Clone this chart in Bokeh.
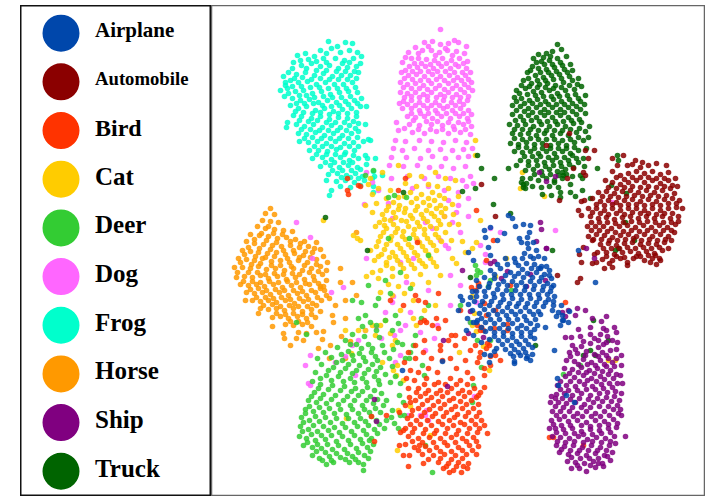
from bokeh.plotting import figure
from bokeh.layouts import row
from bokeh.models import Range1d
from bokeh.core.properties import value
from bokeh.embed import file_html
from bokeh.resources import INLINE

categories = ["Airplane", "Automobile", "Bird", "Cat", "Deer", "Dog", "Frog", "Horse", "Ship", "Truck"]
colors = ["#0047AB", "#8B0000", "#FF3300", "#FFCC00", "#33CC33", "#FF66FF", "#00FFCC", "#FF9900", "#800080", "#006400"]
label_sizes = ["21px", "18.7px", "24px", "25px", "25px", "25px", "25px", "25px", "25px", "25px"]

horse = [(270,208),(265,213),(274,214),(262,220),(270,221),(278,222),(257,226),(265,228),(274,229),(283,230),(292,231),(250,234),(259,235),(268,236),(277,238),(286,237),(295,239),(304,241),(246,241),(254,243),(263,244),(272,245),(281,246),(290,245),(299,247),(308,246),(316,242),(242,250),(250,251),(258,252),(267,253),(276,252),(285,254),(294,253),(303,255),(312,252),(320,249),(238,258),(246,259),(254,260),(262,258),(271,261),(280,260),(289,262),(298,260),(307,262),(316,259),(323,256),(234,267),(242,267),(250,268),(258,266),(266,269),(275,268),(284,270),(293,268),(302,270),(311,268),(320,266),(327,262),(236,277),(244,276),(252,277),(260,275),(268,278),(277,276),(286,279),(295,277),(304,279),(313,276),(322,274),(240,284),(248,285),(256,284),(264,286),(273,284),(282,287),(291,285),(300,287),(309,284),(318,283),(326,280),(246,292),(254,293),(262,292),(270,294),(279,292),(288,295),(297,293),(306,295),(315,292),(324,290),(252,300),(260,301),(268,300),(276,302),(285,300),(294,303),(303,301),(312,303),(321,300),(329,298),(260,308),(268,309),(276,308),(284,310),(293,308),(302,311),(311,309),(320,311),(272,317),(280,316),(288,318),(297,316),(306,318),(315,317),(285,324),(293,325),(302,324),(311,326),(298,332),(306,333),(316,332),(303,340),(322,339),(330,345),(341,336),(350,341),(333,322),(345,300),(352,282),(340,268),(356,232),(335,305),(323,331),(296,338),(318,348),(329,358),(345,358),(345,318),(356,295),(340,282),(290,345),(284,338),(272,326),(258,313),(320,286),(332,315),(245,300),(283,333)]
horse_b = [(268,226),(261,233),(273,233),(282,234),(254,239),(266,240),(276,242),(290,241),(300,243),(248,247),(259,248),(270,249),(283,250),(293,250),(305,251),(314,248),(244,254),(255,256),(265,257),(274,256),(287,258),(299,257),(310,257),(240,262),(251,264),(260,263),(271,265),(280,265),(291,266),(304,265),(316,264),(237,272),(248,272),(257,272),(265,274),(274,273),(283,274),(292,273),(299,274),(309,272),(318,271),(326,270),(243,281),(252,281),(260,282),(269,281),(278,282),(287,281),(296,282),(305,283),(314,280),(323,286),(250,289),(258,288),(266,290),(275,289),(284,290),(293,290),(302,291),(311,290),(320,288),(256,297),(265,297),(273,298),(281,297),(290,299),(299,298),(308,299),(317,297),(326,295),(263,305),(272,304),(280,306),(289,305),(298,306),(307,306),(316,305),(276,313),(285,314),(293,313),(302,314),(311,314),(290,321),(298,321),(307,322)]

frog = [(328,41),(345,42),(352,43),(320,50),(331,48),(340,52),(349,50),(357,52),(297,55),(305,53),(314,56),(323,58),(335,58),(344,60),(353,58),(361,56),(293,62),(301,65),(311,63),(320,66),(329,65),(338,68),(347,67),(356,66),(360,63),(288,72),(296,74),(305,72),(314,75),(323,73),(332,76),(341,75),(350,75),(358,72),(283,76),(290,80),(298,82),(307,81),(316,84),(325,82),(334,84),(343,84),(352,82),(280,90),(287,88),(295,91),(303,90),(312,93),(321,91),(330,94),(339,92),(348,91),(357,92),(284,96),(292,98),(300,100),(309,99),(318,102),(327,100),(336,102),(345,101),(354,100),(361,98),(290,105),(298,108),(306,106),(315,110),(324,108),(333,111),(342,109),(351,108),(360,106),(366,106),(293,115),(301,116),(311,118),(320,116),(329,119),(338,117),(347,118),(356,116),(296,124),(304,126),(313,124),(322,127),(331,125),(340,127),(349,125),(358,123),(286,127),(287,122),(298,133),(306,134),(315,132),(324,135),(333,133),(342,135),(351,133),(358,131),(365,124),(299,141),(308,142),(317,141),(326,143),(335,141),(344,143),(353,142),(309,150),(318,150),(327,151),(336,149),(345,152),(354,150),(363,141),(370,140),(312,158),(322,157),(331,159),(340,157),(349,160),(358,158),(368,139),(320,166),(330,165),(339,167),(348,165),(357,167),(365,155),(328,174),(337,173),(346,175),(355,173),(362,176),(367,158),(375,158),(336,181),(345,180),(354,182),(364,180),(372,178),(326,180),(331,190),(340,186),(350,187),(360,185),(329,195),(373,192),(373,186),(374,176),(382,175),(373,171),(366,164)]
frog_b = [(337,46),(326,53),(308,59),(300,60),(316,61),(326,62),(342,63),(349,62),(292,68),(306,68),(316,70),(326,70),(336,71),(345,71),(354,71),(285,82),(294,78),(302,77),(311,79),(320,78),(329,79),(338,79),(347,79),(356,78),(285,85),(292,86),(301,86),(310,87),(319,87),(328,88),(337,88),(346,88),(355,87),(288,93),(299,95),(306,95),(314,97),(323,96),(332,97),(341,97),(350,96),(296,103),(304,103),(313,103),(322,105),(331,106),(339,105),(348,104),(357,103),(295,111),(303,112),(312,113),(320,112),(329,114),(338,113),(347,113),(356,112),(299,120),(308,121),(317,120),(326,122),(335,122),(344,122),(353,121),(301,129),(310,129),(319,130),(328,130),(337,130),(346,130),(355,128),(304,138),(312,137),(321,138),(330,138),(339,138),(348,138),(357,137),(314,146),(322,146),(331,146),(340,147),(349,146),(358,146),(316,154),(326,154),(335,154),(344,154),(353,155),(325,162),(334,162),(343,162),(352,162),(332,170),(342,170),(351,170),(360,169),(341,177),(350,177),(358,178)]

dog = [(440,29),(454,40),(424,42),(432,41),(440,44),(448,43),(458,42),(466,46),(415,47),(422,50),(431,50),(439,52),(447,50),(456,51),(464,53),(408,52),(411,58),(418,58),(426,59),(434,60),(442,58),(451,60),(459,58),(467,61),(402,62),(409,66),(417,67),(425,66),(433,68),(441,66),(450,68),(458,66),(466,68),(470,72),(401,72),(408,75),(416,74),(424,76),(432,74),(440,76),(449,75),(457,77),(465,75),(400,82),(407,84),(415,83),(423,85),(431,83),(439,85),(448,83),(456,85),(464,84),(471,82),(400,92),(407,93),(415,92),(423,94),(431,92),(440,94),(448,92),(456,94),(464,92),(472,90),(403,101),(411,100),(419,102),(427,100),(435,102),(443,100),(451,102),(459,101),(467,100),(399,103),(402,108),(411,108),(419,110),(427,108),(435,110),(443,108),(452,110),(460,108),(468,110),(407,116),(415,117),(424,116),(432,118),(441,116),(450,118),(459,116),(467,118),(396,122),(409,124),(419,125),(431,124),(442,125),(453,126),(463,124),(471,126),(398,130),(412,132),(424,133),(436,131),(448,133),(460,132),(470,134),(395,140),(405,141),(419,140),(431,141),(443,142),(455,140),(466,142),(393,148),(402,150),(414,148),(428,150),(440,149),(452,150),(463,149),(472,148),(391,157),(406,157),(420,158),(432,156),(445,158),(458,157),(468,156),(389,165),(403,166),(417,165),(429,167),(441,166),(453,168),(465,166),(391,178),(407,176),(424,178),(438,176),(450,178),(462,180),(470,176),(412,188),(428,186),(444,190),(458,192),(466,186),(448,200),(458,205),(468,198),(473,183),(444,216),(452,222),(460,232),(440,240),(456,212),(432,228),(468,216),(445,245),(425,222),(372,182),(378,190),(366,172),(388,203),(364,204),(392,218),(448,248),(417,240),(366,258),(310,237),(343,287),(331,292),(296,222),(312,258),(400,262),(413,258),(428,290),(450,275),(406,282),(393,296),(385,312),(365,330),(352,345),(345,356),(335,362),(310,355),(305,365),(358,340),(392,302),(376,327),(381,338),(400,355),(395,362),(355,375),(470,322),(450,305),(460,285),(485,254),(485,262),(490,228),(480,245),(500,232),(476,302),(434,338),(420,332),(425,350),(405,325),(437,325),(410,312),(400,330),(394,335),(474,396),(426,410),(425,415),(428,420),(555,230),(612,202),(308,383),(310,385),(420,415),(408,415)]
dog_b = [(428,46),(445,48),(418,53),(435,55),(452,55),(405,57),(414,63),(421,63),(430,64),(438,63),(446,63),(455,64),(463,63),(405,70),(412,71),(420,71),(428,71),(437,71),(445,71),(454,72),(462,72),(404,78),(412,79),(420,80),(428,80),(436,79),(444,80),(453,80),(461,80),(468,79),(403,87),(411,88),(419,88),(427,89),(435,88),(444,89),(452,88),(460,89),(468,87),(404,97),(411,96),(419,97),(427,96),(436,97),(444,96),(452,97),(460,97),(468,96),(407,104),(415,105),(423,105),(431,105),(439,105),(447,106),(455,105),(463,104),(411,113),(420,113),(428,113),(437,113),(446,113),(455,113),(463,113),(471,114),(413,120),(426,121),(437,121),(448,122),(458,122),(468,121),(404,128),(418,129),(430,129),(442,129),(454,129),(465,129)]

cat = [(370,178),(382,172),(398,165),(409,175),(421,176),(435,172),(445,178),(455,180),(428,184),(416,186),(405,183),(390,190),(378,188),(368,184),(437,186),(448,188),(458,196),(432,192),(421,194),(410,192),(398,197),(386,198),(372,194),(444,198),(452,204),(434,200),(423,202),(411,202),(399,205),(388,206),(376,203),(365,205),(445,208),(436,208),(426,210),(415,210),(404,212),(393,212),(382,214),(372,212),(453,214),(444,216),(434,216),(423,218),(412,218),(401,220),(390,220),(379,222),(449,224),(440,224),(430,226),(419,226),(408,226),(397,228),(386,228),(375,226),(445,232),(435,234),(424,234),(413,234),(402,236),(391,236),(380,236),(441,241),(430,242),(419,242),(408,244),(397,244),(386,244),(376,246),(436,250),(425,250),(414,252),(403,252),(392,252),(381,254),(430,258),(419,260),(408,260),(397,260),(386,262),(374,260),(452,258),(436,266),(425,266),(414,268),(403,268),(392,268),(380,270),(372,272),(378,278),(392,276),(406,276),(420,274),(388,284),(398,286),(412,284),(428,282),(380,292),(392,295),(404,293),(370,250),(366,276),(451,240),(458,224),(480,220),(462,241),(440,275),(435,305),(424,310),(413,300),(413,318),(416,325),(385,320),(380,325),(375,335),(365,330),(358,330),(395,340),(392,345),(372,325),(400,310),(390,333),(360,240),(357,238),(353,235),(472,248),(465,252),(456,263),(472,325),(476,331),(506,258),(483,346),(489,370),(459,352),(396,375),(382,362),(351,353),(410,406),(398,410),(430,435),(397,450),(346,418),(397,365),(522,172),(520,188),(475,155),(475,140),(476,242),(544,196),(495,276),(472,296),(474,313),(615,360),(608,360),(393,370),(403,380),(345,330),(323,220)]
cat_b = [(404,196),(416,198),(428,198),(439,195),(393,202),(405,208),(417,206),(429,205),(440,205),(386,210),(398,209),(410,215),(421,214),(431,213),(441,212),(384,219),(395,217),(406,221),(417,222),(427,221),(438,220),(384,225),(393,224),(403,231),(414,229),(424,229),(436,228),(383,232),(395,232),(405,239),(416,238),(427,238),(438,237),(378,241),(390,240),(400,248),(411,247),(422,246),(433,245),(384,249),(395,256),(406,256),(417,255),(428,254),(378,256),(389,257),(400,264),(411,264),(422,263),(433,262),(386,265)]

deer = [(385,320),(370,322),(362,326),(376,330),(352,334),(364,336),(379,337),(345,340),(356,344),(368,344),(382,345),(337,347),(348,351),(359,353),(371,352),(384,352),(393,349),(325,352),(331,357),(342,360),(353,360),(365,361),(377,360),(389,358),(317,358),(321,364),(333,367),(345,368),(356,370),(368,369),(380,367),(392,366),(315,372),(326,375),(338,376),(350,378),(362,378),(374,376),(385,374),(395,376),(312,381),(320,384),(332,385),(344,386),(355,388),(367,387),(379,384),(390,382),(400,383),(314,392),(323,394),(335,395),(347,396),(358,395),(370,396),(381,393),(386,400),(308,400),(316,402),(326,403),(338,404),(350,405),(362,405),(373,403),(383,405),(305,409),(313,411),(323,412),(334,413),(346,414),(358,413),(369,412),(380,412),(392,410),(301,417),(309,420),(319,421),(330,422),(342,423),(354,422),(365,421),(376,420),(300,426),(308,429),(317,431),(328,430),(339,432),(351,431),(363,430),(374,429),(384,428),(299,436),(306,438),(315,440),(325,439),(336,441),(348,440),(360,439),(371,438),(303,445),(312,447),(321,448),(332,449),(344,449),(356,448),(367,447),(369,440),(312,455),(319,458),(329,456),(340,457),(352,456),(364,455),(370,451),(326,464),(333,462),(349,462),(355,459),(363,464),(363,470),(403,402),(399,395),(391,417),(398,428),(404,415),(386,420),(394,423),(352,300),(361,302),(375,305),(390,293),(368,285),(410,288),(400,272),(397,342),(410,352),(415,335),(405,358),(421,318),(428,305),(409,358),(358,318),(365,315),(378,298),(306,334),(296,322),(428,255),(395,315),(392,330),(376,325),(413,345),(422,365),(424,375),(402,344),(460,305),(477,340),(481,367),(488,286),(470,322),(432,472),(425,445),(400,415),(398,323),(385,280),(409,238),(511,290),(490,340),(472,402),(473,385),(406,197),(388,197),(394,195),(373,170),(365,175),(563,374),(580,365),(490,280),(476,275),(477,270),(475,265),(480,272),(388,238)]
deer_b = [(350,344),(361,348),(372,348),(341,354),(352,355),(363,357),(375,356),(336,362),(348,364),(359,365),(372,364),(328,370),(340,372),(352,373),(364,373),(376,371),(320,378),(331,380),(343,381),(354,382),(366,382),(378,380),(318,388),(328,389),(340,390),(351,391),(362,391),(374,390),(311,396),(320,398),(331,399),(343,400),(354,400),(366,400),(377,399),(309,406),(319,407),(329,408),(340,409),(352,409),(364,409),(375,408),(305,413),(315,416),(325,417),(336,418),(348,418),(360,418),(371,416),(303,422),(313,425),(323,426),(334,427),(345,427),(357,426),(368,425),(379,424),(302,431),(311,434),(321,435),(331,435),(342,436),(354,435),(366,434),(377,433),(307,442),(317,444),(327,444),(338,445),(350,444),(362,443),(373,444),(316,451),(325,452),(336,453),(347,453),(358,452),(322,460),(331,460),(345,459),(358,462),(368,458)]

bird = [(420,322),(436,318),(424,340),(415,345),(408,352),(415,358),(440,345),(423,352),(431,358),(440,350),(448,340),(442,360),(455,345),(464,338),(470,350),(465,360),(477,362),(484,368),(404,362),(410,370),(418,372),(428,368),(437,372),(450,358),(456,368),(467,372),(480,352),(406,378),(414,380),(426,378),(438,382),(450,378),(460,380),(472,378),(484,375),(490,365),(408,388),(418,388),(428,390),(440,390),(451,388),(462,390),(474,388),(420,396),(431,397),(442,396),(453,398),(464,396),(476,397),(410,402),(422,404),(433,405),(444,404),(455,406),(466,404),(478,404),(412,410),(424,412),(435,413),(446,412),(457,414),(468,412),(479,412),(407,418),(416,420),(427,420),(438,421),(449,420),(460,422),(471,420),(481,420),(405,428),(414,428),(425,429),(436,430),(447,428),(458,430),(469,428),(479,428),(408,436),(418,438),(429,437),(440,438),(451,437),(462,438),(473,437),(405,444),(414,447),(425,446),(436,447),(447,445),(458,447),(469,445),(478,446),(409,455),(422,454),(433,455),(444,454),(455,455),(466,454),(476,454),(423,463),(438,462),(448,463),(458,462),(468,463),(443,468),(453,470),(461,472),(467,468),(449,472),(399,445),(403,430),(478,395),(484,387),(487,433),(403,455),(399,412),(409,397),(374,441),(371,416),(386,415),(403,305),(415,295),(390,300),(438,293),(417,242),(418,300),(425,302),(438,328),(445,320),(486,348),(477,325),(486,315),(494,328),(460,310),(478,286),(486,260),(493,240),(476,210),(405,178),(398,190),(347,190),(347,178),(360,186),(358,185),(348,194),(481,327),(455,335),(483,330),(451,335),(495,310),(490,356),(487,343),(479,357),(484,303),(478,283),(471,287),(475,290),(565,302),(583,445),(405,405),(400,432),(424,320),(426,322),(432,325),(419,445),(408,466),(549,437),(553,437),(507,324),(507,330),(510,285),(489,345),(495,355),(500,360),(480,330),(475,345)]
bird_b = [(424,384),(434,384),(445,384),(456,384),(467,384),(416,392),(425,393),(436,393),(447,392),(458,393),(469,392),(480,392),(415,400),(427,400),(438,401),(449,400),(460,401),(471,400),(418,408),(429,409),(440,408),(451,409),(462,408),(473,408),(411,415),(421,416),(432,416),(443,416),(454,417),(465,416),(476,416),(410,424),(420,424),(431,425),(442,424),(453,425),(464,424),(475,424),(484,425),(412,432),(423,433),(434,433),(445,433),(456,434),(467,433),(477,432),(412,441),(422,442),(433,442),(444,442),(455,442),(466,441),(476,441),(418,450),(429,450),(440,451),(451,451),(462,450),(472,450),(428,459),(440,458),(451,459),(462,458),(446,466),(456,466),(463,466)]

truck = [(557,44),(538,54),(546,53),(552,51),(561,49),(533,58),(541,61),(549,60),(557,58),(566,56),(532,66),(538,68),(546,69),(554,67),(562,65),(570,64),(527,72),(535,75),(543,77),(551,75),(559,74),(567,72),(572,70),(523,80),(531,83),(539,84),(547,83),(555,85),(563,82),(572,80),(578,78),(516,90),(525,88),(533,91),(541,92),(549,90),(557,93),(565,90),(574,89),(581,86),(514,97),(521,98),(529,100),(537,99),(545,101),(553,99),(561,101),(569,99),(578,98),(585,95),(512,105),(520,106),(528,108),(536,107),(544,109),(552,107),(560,109),(568,107),(576,106),(584,104),(512,114),(520,116),(528,115),(536,117),(544,115),(552,117),(560,115),(568,117),(576,114),(585,113),(509,124),(517,125),(525,124),(533,126),(541,124),(549,126),(557,124),(565,126),(573,123),(581,122),(589,126),(512,133),(520,134),(528,133),(536,135),(544,133),(552,135),(560,133),(568,135),(576,132),(585,131),(510,143),(518,144),(526,142),(534,144),(542,143),(550,145),(558,143),(566,145),(574,142),(583,140),(588,137),(514,151),(522,152),(530,151),(538,153),(546,151),(554,153),(562,151),(570,153),(578,150),(586,148),(520,160),(528,161),(536,160),(544,162),(552,160),(560,162),(568,160),(576,158),(583,158),(516,165),(525,170),(533,169),(541,171),(549,169),(557,171),(565,169),(573,167),(584,166),(522,178),(530,178),(538,180),(546,178),(554,180),(562,178),(572,176),(580,175),(523,184),(532,186),(541,187),(549,186),(558,187),(570,184),(582,178),(523,187),(526,183),(542,194),(551,195),(560,192),(570,192),(578,162),(521,182),(525,188),(554,182),(560,197),(575,196),(582,190),(597,168),(611,185),(618,160),(617,155),(590,198),(562,172),(563,175),(508,168),(481,168),(493,204),(494,178),(477,155),(462,191),(403,192),(367,250),(325,217),(510,213),(470,277),(475,188),(552,250),(615,250),(618,248),(634,240),(626,193),(625,222),(535,345),(593,320),(590,350),(595,355),(583,355),(608,340)]
truck_b = [(543,57),(550,56),(536,62),(544,64),(552,64),(560,62),(530,70),(540,72),(548,72),(556,71),(564,69),(528,78),(537,80),(545,80),(553,79),(561,78),(569,76),(521,85),(529,86),(537,87),(545,87),(553,88),(561,87),(569,85),(577,84),(519,93),(527,94),(535,95),(543,96),(551,96),(559,96),(567,95),(575,94),(516,101),(524,103),(532,103),(540,104),(548,104),(556,104),(564,104),(572,103),(580,101),(516,110),(524,111),(532,112),(540,112),(548,112),(556,112),(564,112),(572,111),(580,109),(515,120),(523,120),(531,120),(539,121),(547,121),(555,121),(563,121),(571,120),(579,119),(514,129),(522,129),(530,129),(538,130),(546,130),(554,130),(562,130),(570,129),(579,128),(514,138),(522,139),(530,138),(538,139),(546,139),(554,139),(562,140),(570,139),(578,137),(518,147),(526,147),(534,148),(542,148),(550,148),(558,148),(566,148),(574,147),(524,156),(532,156),(540,156),(548,157),(556,157),(564,157),(572,155),(528,165),(537,165),(545,166),(553,165),(561,166),(569,164),(534,174),(542,175),(550,174),(558,175),(566,174)]

automobile = [(612,158),(623,155),(617,165),(627,165),(635,160),(642,162),(648,165),(656,163),(666,165),(612,171),(620,175),(628,173),(636,171),(644,173),(652,171),(660,174),(668,172),(605,180),(612,182),(620,184),(628,182),(636,180),(644,182),(652,180),(660,183),(668,180),(675,178),(598,192),(606,191),(614,193),(622,191),(630,190),(638,192),(646,190),(654,192),(662,190),(670,188),(677,186),(592,198),(600,201),(608,200),(616,202),(624,200),(632,199),(640,201),(648,199),(656,201),(664,199),(672,198),(679,200),(588,208),(596,208),(604,210),(612,208),(620,210),(628,208),(636,208),(644,210),(652,208),(660,210),(668,208),(676,207),(682,208),(590,216),(598,218),(606,217),(614,219),(622,217),(630,216),(638,218),(646,216),(654,218),(662,216),(670,218),(678,216),(587,226),(595,226),(603,226),(611,228),(619,226),(627,225),(635,227),(643,225),(651,227),(659,225),(667,227),(675,224),(588,236),(596,234),(604,235),(612,237),(620,235),(628,234),(636,236),(644,234),(652,236),(660,234),(668,236),(674,232),(592,240),(600,244),(608,243),(616,245),(624,243),(632,242),(640,244),(648,243),(656,244),(664,242),(671,240),(597,252),(606,252),(614,254),(622,252),(630,251),(638,253),(646,251),(654,253),(662,250),(668,248),(594,254),(602,259),(612,260),(620,258),(627,262),(636,256),(644,260),(652,258),(659,258),(612,267),(627,265),(650,262),(656,264),(660,260),(609,263),(583,247),(579,254),(581,262),(596,262),(604,268),(592,263),(581,215),(578,210),(584,200),(581,201),(594,150),(583,172),(495,216),(546,145),(569,133),(585,150),(573,168),(585,175),(567,178),(588,158),(559,200),(577,282),(580,278),(557,275),(481,184)]
automobile_b = [(632,164),(640,167),(616,177),(624,179),(632,177),(640,177),(648,177),(656,178),(664,178),(608,187),(616,188),(624,187),(632,186),(640,187),(648,186),(656,187),(664,186),(672,185),(602,196),(610,196),(618,197),(626,196),(634,195),(642,196),(650,195),(658,196),(666,195),(674,193),(596,204),(604,205),(612,204),(620,205),(628,204),(636,204),(644,205),(652,204),(660,205),(668,203),(676,203),(592,212),(600,213),(608,214),(616,213),(624,214),(632,212),(640,213),(648,213),(656,214),(664,213),(672,213),(591,222),(599,222),(607,222),(615,223),(623,222),(631,221),(639,222),(647,221),(655,222),(663,222),(671,222),(678,221),(591,230),(599,230),(607,231),(615,232),(623,231),(631,230),(639,231),(647,230),(655,231),(663,230),(671,230),(593,239),(601,239),(609,240),(617,240),(625,239),(633,238),(641,240),(649,239),(657,240),(665,239),(603,248),(611,248),(619,248),(627,247),(635,248),(643,247),(651,248),(659,247),(606,256),(616,256),(624,257),(633,258),(640,256),(648,255),(655,255)]

ship = [(601,321),(606,316),(603,328),(600,334),(578,329),(590,327),(592,318),(606,330),(614,327),(571,337),(580,336),(590,334),(598,340),(607,336),(616,332),(572,345),(565,337),(581,346),(590,343),(598,347),(606,342),(612,340),(617,342),(569,352),(577,353),(586,351),(594,354),(602,352),(610,350),(616,349),(566,360),(574,361),(583,359),(591,362),(600,360),(608,358),(616,358),(621,355),(564,368),(572,369),(581,367),(589,370),(597,368),(606,366),(614,366),(621,365),(565,376),(574,377),(583,375),(591,378),(600,376),(608,374),(616,374),(620,375),(557,385),(566,385),(575,386),(584,384),(592,386),(601,384),(609,383),(617,383),(622,383),(556,394),(564,393),(572,395),(581,393),(590,395),(599,393),(607,392),(615,391),(621,393),(551,396),(550,402),(558,402),(566,403),(575,402),(584,404),(593,402),(602,401),(611,401),(619,400),(552,411),(560,411),(569,411),(577,413),(586,411),(595,413),(604,411),(613,409),(620,409),(551,420),(559,419),(568,421),(577,420),(586,422),(595,420),(604,421),(613,419),(621,415),(549,428),(555,428),(563,429),(572,428),(581,431),(590,429),(599,430),(608,428),(616,427),(552,436),(560,437),(569,438),(578,436),(587,439),(596,437),(605,438),(614,436),(556,445),(564,446),(573,445),(582,447),(591,445),(600,447),(609,445),(615,443),(559,452),(568,454),(577,453),(586,455),(595,453),(604,455),(612,452),(567,461),(575,462),(584,463),(593,461),(602,463),(610,460),(571,468),(579,468),(586,471),(595,467),(603,466),(625,436),(562,312),(568,310),(575,315),(565,316),(585,310),(577,308),(536,241),(541,229),(540,222),(546,248),(545,280),(530,274),(507,271),(501,278),(526,286),(490,263),(483,337),(494,261),(462,270),(546,181),(539,172),(555,176),(546,248),(586,248),(594,258),(447,386),(374,399),(376,421),(443,340),(468,333),(470,311)]
ship_b = [(583,341),(594,338),(603,344),(575,349),(585,355),(598,356),(606,355),(570,356),(578,364),(587,364),(595,365),(604,364),(612,362),(569,373),(578,372),(586,372),(594,373),(602,371),(610,370),(560,381),(570,381),(579,381),(587,380),(596,381),(604,379),(613,378),(560,389),(568,390),(577,390),(586,389),(595,389),(603,388),(612,387),(555,398),(562,398),(570,399),(579,398),(588,399),(597,398),(606,397),(614,396),(555,406),(563,407),(572,407),(581,407),(590,407),(599,406),(608,406),(617,405),(556,415),(564,416),(573,416),(582,416),(591,416),(600,416),(609,415),(618,413),(553,424),(561,425),(570,425),(581,425),(590,426),(599,425),(608,424),(617,423),(556,432),(565,433),(574,433),(583,434),(592,434),(601,433),(610,432),(557,441),(565,442),(574,441),(583,442),(592,441),(601,442),(610,441),(561,449),(570,450),(579,450),(588,450),(597,450),(606,450),(571,457),(580,458),(589,458),(598,458),(607,456),(577,465),(590,465),(598,463)]

airplane = [(530,225),(529,232),(527,237),(521,242),(533,242),(536,250),(528,248),(524,253),(538,256),(530,256),(544,258),(514,258),(505,258),(497,264),(518,265),(526,263),(534,264),(541,266),(549,270),(490,270),(500,268),(510,272),(518,273),(527,273),(536,272),(544,274),(551,278),(484,277),(494,278),(503,281),(512,281),(521,282),(530,281),(539,281),(547,283),(553,285),(472,291),(479,286),(488,287),(497,289),(506,290),(515,290),(524,290),(533,289),(542,290),(550,291),(470,297),(476,296),(485,296),(494,297),(503,299),(512,298),(521,299),(530,298),(539,298),(548,299),(554,296),(480,305),(489,305),(498,306),(507,307),(516,306),(525,307),(534,306),(543,306),(553,305),(472,310),(479,313),(488,314),(497,314),(506,315),(515,314),(524,316),(533,314),(540,314),(476,322),(485,322),(494,323),(503,324),(512,323),(521,325),(530,323),(485,331),(494,332),(503,332),(512,333),(521,332),(530,332),(537,325),(489,339),(498,340),(507,340),(516,341),(525,340),(534,338),(496,348),(505,349),(514,349),(523,348),(532,347),(513,356),(520,355),(526,358),(532,354),(514,361),(525,352),(530,360),(514,363),(545,327),(552,310),(558,312),(561,305),(562,315),(568,322),(563,320),(556,316),(569,311),(484,354),(490,355),(489,362),(494,351),(473,322),(462,300),(458,310),(467,318),(477,320),(476,280),(473,260),(468,252),(484,230),(490,227),(485,237),(488,247),(490,255),(519,238),(515,226),(523,224),(540,268),(578,250),(595,282),(554,350),(557,378),(558,385),(566,395),(574,402),(562,320),(560,325),(402,370),(508,215),(512,218),(504,233),(497,240),(442,361),(460,296),(468,304),(466,330),(473,335),(481,342)]
airplane_b = [(527,243),(533,258),(522,258),(515,262),(507,264),(522,269),(531,268),(538,268),(546,266),(494,274),(505,275),(514,276),(523,277),(532,277),(541,277),(549,275),(489,283),(498,284),(507,285),(516,285),(525,286),(534,285),(543,286),(551,287),(476,291),(484,291),(493,293),(502,294),(511,294),(520,294),(529,294),(538,294),(547,294),(474,301),(482,301),(491,301),(500,302),(509,303),(518,303),(527,303),(536,302),(545,302),(553,301),(484,309),(493,310),(502,311),(511,311),(520,311),(529,311),(538,311),(481,318),(490,319),(499,319),(508,319),(517,319),(526,320),(535,319),(481,327),(490,328),(499,328),(508,328),(517,328),(526,328),(534,329),(494,336),(503,336),(512,337),(521,336),(530,336),(502,344),(511,345),(519,344),(528,344),(510,353),(518,352),(527,356)]

p = figure(width=494, height=491, x_range=Range1d(211, 705), y_range=Range1d(496, 5),
           output_backend="svg", toolbar_location=None, min_border=0)
p.xaxis.visible = False
p.yaxis.visible = False
p.xgrid.visible = False
p.ygrid.visible = False
p.outline_line_color = "#666666"
p.outline_line_width = 1.5

draw_order = [
    (horse + horse_b, colors[7]), (frog + frog_b, colors[6]), (dog + dog_b, colors[5]),
    (cat + cat_b, colors[3]), (deer + deer_b, colors[4]), (bird + bird_b, colors[2]),
    (truck + truck_b, colors[9]), (automobile + automobile_b, colors[1]),
    (ship + ship_b, colors[8]), (airplane + airplane_b, colors[0]),
]
for pts, c in draw_order:
    xs, ys = zip(*pts)
    p.scatter(list(xs), list(ys), size=5.6, color=c, line_color=None, fill_alpha=0.85)

leg = figure(width=191, height=491, x_range=Range1d(20, 211), y_range=Range1d(9.519, -0.569),
             output_backend="svg", toolbar_location=None, min_border=0)
leg.xaxis.visible = False
leg.yaxis.visible = False
leg.xgrid.visible = False
leg.ygrid.visible = False
leg.outline_line_color = "#111111"
leg.outline_line_width = 2

idx = list(range(len(categories)))
leg.scatter([60.5] * len(idx), idx, size=37, color=colors, line_color=None)
leg.text([94.5] * len(idx), idx, text=categories, text_font=value("Liberation Serif"),
         text_font_style="bold", text_font_size=label_sizes, text_baseline="middle",
         text_color="#000000", y_offset=-3)

layout = row(leg, p, spacing=0, margin=(5, 0, 0, 20))
open("out.html", "w").write(file_html(layout, INLINE))
